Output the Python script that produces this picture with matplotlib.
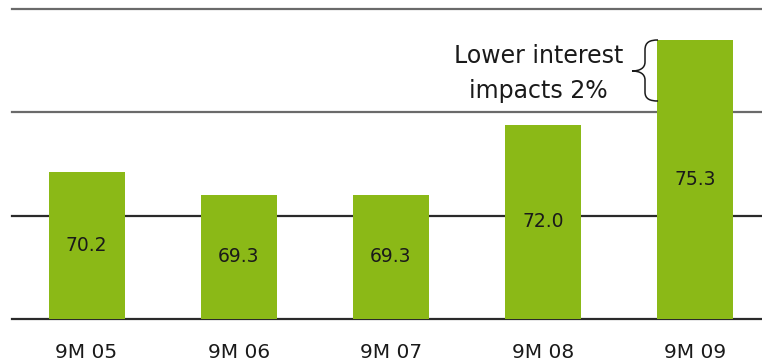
import matplotlib.pyplot as plt
from matplotlib.path import Path
from matplotlib.patches import PathPatch

categories = ['9M 05', '9M 06', '9M 07', '9M 08', '9M 09']
values = [70.2, 69.3, 69.3, 72.0, 75.3]
grid_levels = [64.5, 68.5, 72.5, 76.5]
note = 'Lower interest\nimpacts 2%'

W, H = 762, 364
fig = plt.figure(figsize=(W / 100, H / 100), dpi=100)
# axes runs from the baseline up to the top edge of the figure
ax = fig.add_axes([12 / W, 45 / H, 1 - 12 / W, 1 - 45 / H])
ax.set_xlim(-0.49, 4.44)
ax.set_ylim(64.5, 76.83)
ax.axis('off')

grid_cols = ['#2a2a2a', '#2a2a2a', '#6a6a6a', '#6a6a6a']
for lvl, c in zip(grid_levels, grid_cols):
    ax.axhline(lvl, color=c, lw=1.6, zorder=1, clip_on=False)

x = range(len(categories))
ax.bar(x, [v - 64.5 for v in values], bottom=64.5, width=0.5,
       color='#8BB917', zorder=2)

for i, v in enumerate(values):
    ax.text(i, (64.5 + v) / 2, f'{v:.1f}', ha='center', va='center',
            fontsize=13.5, color='#1a1a1a', zorder=3)
    ax.annotate(categories[i], (i, 64.5), xytext=(0, -24),
                textcoords='offset points', ha='center', va='center',
                fontsize=14.5, color='#1a1a1a', annotation_clip=False)

ax.text(2.97, 74.0, note, ha='center', va='center', fontsize=17,
        color='#1a1a1a', linespacing=1.6)


# curly brace, drawn in figure pixels
def px(a, b):
    return (a / W, 1 - b / H)


verts = [px(658, 40),
         px(650, 40), px(645, 42), px(645, 50),
         px(645, 62),
         px(645, 68), px(640, 71), px(632, 71),
         px(640, 71), px(645, 74), px(645, 80),
         px(645, 92),
         px(645, 99), px(650, 101), px(658, 101)]
codes = [Path.MOVETO,
         Path.CURVE4, Path.CURVE4, Path.CURVE4,
         Path.LINETO,
         Path.CURVE4, Path.CURVE4, Path.CURVE4,
         Path.CURVE4, Path.CURVE4, Path.CURVE4,
         Path.LINETO,
         Path.CURVE4, Path.CURVE4, Path.CURVE4]
brace = PathPatch(Path(verts, codes), transform=fig.transFigure,
                  fill=False, lw=1.1, color='#1a1a1a')
fig.patches.append(brace)

plt.savefig('out.png', dpi=100, facecolor='white')
